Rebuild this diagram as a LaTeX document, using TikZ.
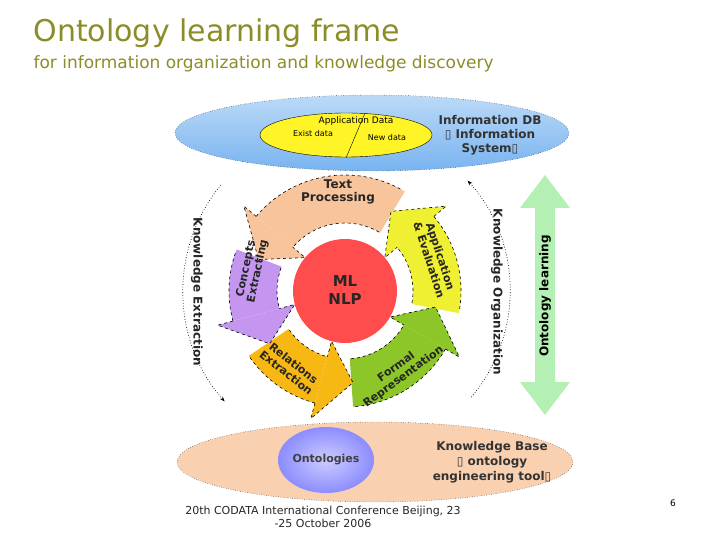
\documentclass[tikz,border=0pt]{standalone}
\usepackage{fontspec}
\setmainfont{DejaVu Sans}
\usetikzlibrary{arrows.meta,shadings}
\definecolor{olive}{RGB}{140,140,40}
\definecolor{peach}{RGB}{248,196,156}
\definecolor{purp}{RGB}{196,150,240}
\definecolor{orng}{RGB}{248,184,20}
\definecolor{grn}{RGB}{140,198,40}
\definecolor{ylw}{RGB}{240,240,50}
\definecolor{skyb}{RGB}{120,180,240}
\definecolor{lgrn}{RGB}{180,240,180}
\tikzset{
 lbl/.style={font=\bfseries\fontsize{12}{13}\selectfont,align=center,text=black!85},
 rl/.style={font=\bfseries\fontsize{11}{12}\selectfont,align=center,text=black!85},
 sml/.style={font=\fontsize{9}{10}\selectfont},
 cyc/.style={draw=black,dashed,line width=0.6pt},
 dots/.style={dotted,line width=0.7pt,-{Stealth[length=5pt]}}
}
\newcommand\cycbody[3]{%
 \fill[#1] ({#2-1}:116) arc[start angle={#2-1},end angle=#3,radius=116] -- (#3:68) arc[start angle=#3,end angle={#2-1},radius=68] -- cycle;
 \draw[cyc] (#3:116) arc[start angle=#3,end angle=#2,radius=116] (#2:68) arc[start angle=#2,end angle=#3,radius=68];}
\newcommand\cychead[2]{%
 \fill[#1,cyc] (#2:116) -- (#2:132) -- ({#2+20}:92) -- (#2:52) -- (#2:68);}
\begin{document}
\begin{tikzpicture}[x=1pt,y=-1pt]
\useasboundingbox (0,0) rectangle (720,540);
\node[anchor=west,text=olive,font=\fontsize{30}{32}\selectfont] (t) at (30,33) {Ontology learning frame};
\node[anchor=west,text=olive,font=\fontsize{17}{19}\selectfont] (st) at (30,64) {for information organization and knowledge discovery};
% top ellipse
\shade[top color=skyb!50,bottom color=skyb,draw=black,dotted] (372,133) ellipse[x radius=197,y radius=38];
\fill[yellow!85!white,draw=black] (346,135) ellipse[x radius=86,y radius=22];
\draw (365,113) -- (346,158);
\node[sml] (ad) at (356,121) {Application Data};
\node[sml,font=\fontsize{8}{9}\selectfont] (ex) at (313,134) {Exist data};
\node[sml,font=\fontsize{8}{9}\selectfont] (nd) at (387,138) {New data};
\node[align=center,font=\bfseries\fontsize{12}{14}\selectfont,text=black!80] (idb) at (490,135) {Information DB\\▯ Information\\System▯};
% bottom ellipse
\fill[peach!80!white,draw=black,dotted] (375,462) ellipse[x radius=198,y radius=40];
\shade[inner color=blue!20!white,outer color=blue!45!white] (326,460) ellipse[x radius=48,y radius=33];
\node[font=\bfseries\fontsize{11}{13}\selectfont,text=black!75] (ont) at (326,460) {Ontologies};
\node[align=center,font=\bfseries\fontsize{12}{15}\selectfont,text=black!80] (kb) at (492,462) {Knowledge Base\\▯ ontology\\engineering tool▯};
% cycle
\begin{scope}[shift={(345,291)},yscale=-1]
 \cycbody{peach}{60}{140}
 \cycbody{purp}{160}{195}
 \cycbody{orng}{215}{255}
 \cycbody{grn}{275}{330}
 \cycbody{ylw}{350}{400}
 \cychead{ylw}{400}
 \cychead{peach}{140}
 \cychead{purp}{195}
 \cychead{orng}{255}
 \cychead{grn}{330}
\end{scope}
\fill[red!70!white] (345,291) circle[radius=52];
\node[lbl,font=\bfseries\fontsize{15}{18}\selectfont] (ml) at (345,290) {ML\\NLP};
\node[lbl] (tp) at (338,192) {Text\\Processing};
\node[rl,rotate=78] (ce) at (252,270) {Concepts\\Extracting};
\node[rl,rotate=-72] (ae) at (435,258) {Application\\\& Evaluation};
\node[rl,rotate=-38] (re) at (290,368) {Relations\\Extraction};
\node[rl,rotate=36] (fr) at (400,372) {Formal\\Representation};
% side labels
\node[lbl,rotate=-90] (ke) at (197,292) {Knowledge Extraction};
\node[lbl,rotate=-90] (ko) at (497,292) {Knowledge Organization};
\begin{scope}[shift={(345,291)},yscale=-1]
 \draw[dots] (140:162 and 165) arc[start angle=140,end angle=222,x radius=162,y radius=165];
 \draw[dots] (-40:165 and 165) arc[start angle=-40,end angle=42,x radius=165,y radius=165];
\end{scope}
% ontology learning arrow
\fill[lgrn] (535,208) -- (520,208) -- (545,175) -- (570,208) -- (555,208) -- (555,382) -- (570,382) -- (545,415) -- (520,382) -- (535,382) -- cycle;
\node[lbl,rotate=90,text=black] (ol) at (545,296) {Ontology learning};
% footer
\node[font=\fontsize{11}{13}\selectfont,align=center,text=black!85] (ft) at (323,517) {20th CODATA International Conference Beijing, 23\\-25 October 2006};
\node[font=\fontsize{9}{10}\selectfont] (pg) at (673,503) {6};
\end{tikzpicture}
\end{document}
